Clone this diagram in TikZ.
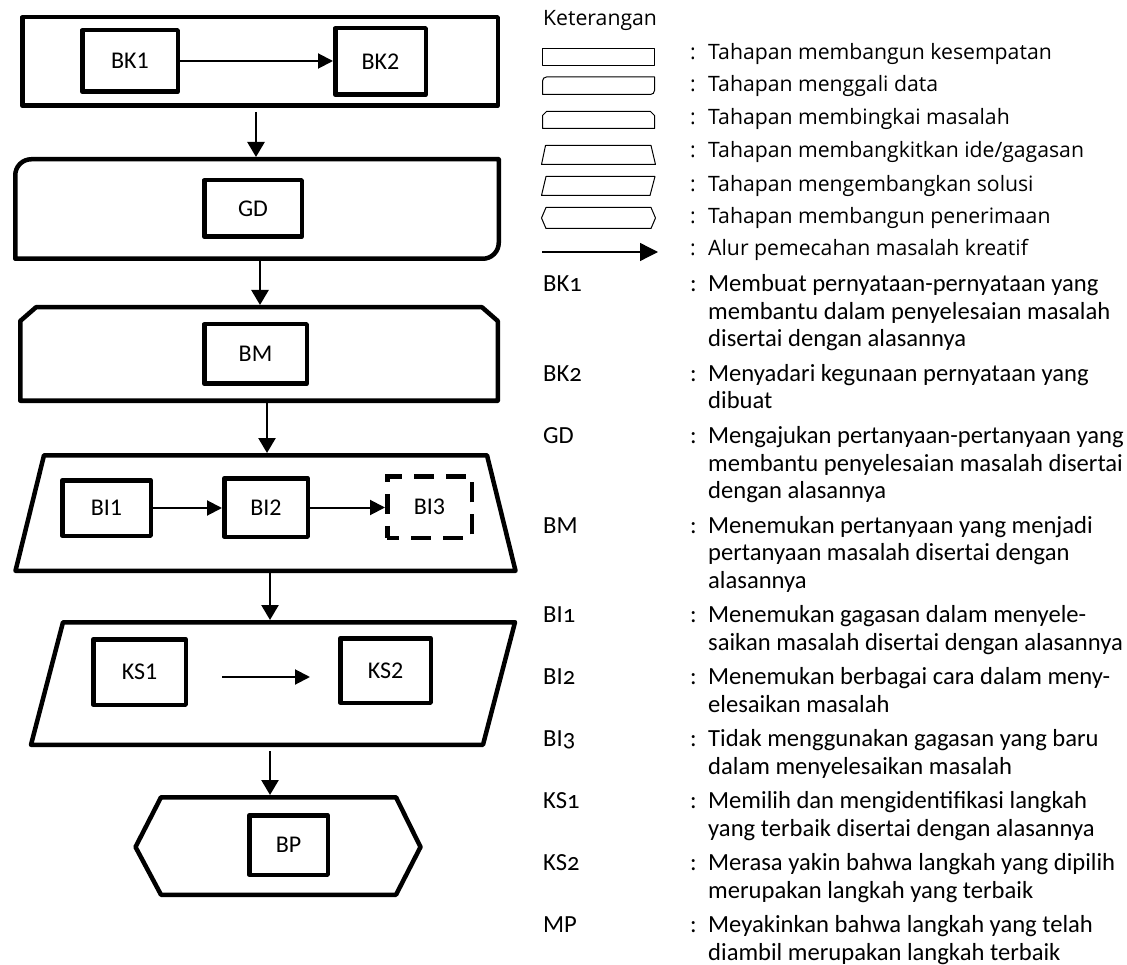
\documentclass[tikz,border=0pt]{standalone}
\usepackage{fontspec}
\setmainfont{Carlito}
\newfontfamily\legfont{Open Sans}
\newfontfamily\deffont[Numbers=OldStyle]{Carlito}
\usetikzlibrary{arrows.meta}
\tikzset{
  stage/.style={draw, line width=4.5pt, line join=round},
  ibox/.style={draw, line width=4.5pt, line join=round, inner sep=0pt,
    font=\fontsize{24}{28}\selectfont},
  flowv/.style={line width=2.5pt, -{Triangle[length=15pt,width=17pt]}},
  flowh/.style={line width=2pt, -{Triangle[length=15pt,width=15pt]}},
  legshape/.style={draw, line width=1pt, line join=round},
  legtext/.style={anchor=base west, inner sep=0pt, font=\legfont\fontsize{21.2}{25}\selectfont},
  deftext/.style={anchor=base west, inner sep=0pt, font=\deffont\fontsize{24.6}{28}\selectfont},
}
\newcommand\dline[3]{\node[deftext] (#1) at (708,#2) {#3};}
\newcommand\dlabel[3]{\node[deftext] (#1) at (543,#2) {#3};\node[deftext] (#1c) at (690,#2) {:};}
\begin{document}
\begin{tikzpicture}[x=1pt,y=-1pt]
\useasboundingbox (0,0) rectangle (1127,965);
% ---------- stage shapes ----------
% BK
\draw[stage] (22.25,17.25) rectangle (497.75,105.75);
% GD
\draw[stage] (15.25,258.75) -- (15.25,175.25) arc[start angle=180,end angle=270,radius=16]
  -- (498.75,159.25) -- (498.75,242.75) arc[start angle=0,end angle=90,radius=16] -- cycle;
% BM
\draw[stage] (20.25,400.75) -- (20.25,321) -- (36,307.25) -- (482,307.25) -- (497.75,321)
  -- (497.75,400.75) -- cycle;
% BI
\draw[stage] (44,455.25) -- (487,455.25) -- (515.5,570.75) -- (15.5,570.75) -- cycle;
% KS
\draw[stage] (63,622.25) -- (515,622.25) -- (483,744.75) -- (31,744.75) -- cycle;
% BP
\draw[stage] (161,797.25) -- (396,797.25) -- (420.5,847) -- (396,894.75) -- (161,894.75)
  -- (135.5,847) -- cycle;
% ---------- inner boxes ----------
\node[ibox, minimum width=95.5, minimum height=61.5] (bk1) at (130,61) {BK1};
\node[ibox, minimum width=90.5, minimum height=66.5] (bk2) at (380.5,61.5) {BK2};
\node[ibox, minimum width=97.5, minimum height=56.5] (gd) at (253,208.5) {GD};
\node[ibox, minimum width=102.5, minimum height=59.5] (bm) at (255.5,354) {BM};
\node[ibox, minimum width=88.5, minimum height=55.5] (bi1) at (106.5,508) {BI1};
\node[ibox, minimum width=83.5, minimum height=58.5] (bi2) at (266,507.5) {BI2};
\node[ibox, dash pattern=on 20pt off 12pt, dash phase=8pt, line join=miter,
  minimum width=84.5, minimum height=61.5] (bi3) at (429.5,507) {BI3};
\node[ibox, minimum width=92.5, minimum height=65.5] (ks1) at (139.5,672) {KS1};
\node[ibox, minimum width=90.5, minimum height=64.5] (ks2) at (385.5,670.5) {KS2};
\node[ibox, minimum width=78.5, minimum height=59.5] (bp) at (288.5,845) {BP};
% ---------- connectors ----------
\draw[flowh] (bk1.east) -- (bk1.east -| bk2.west);
\draw[flowh] (bi1.east) -- (bi1.east -| bi2.west);
\draw[flowh] (bi2.east) -- (bi2.east -| bi3.west);
\coordinate (ksa) at (222,677);
\coordinate (ksb) at (310,677);
\draw[flowh] (ksa) -- (ksb);
\coordinate (v1a) at (256,112);   \coordinate (v1b) at (256,157);
\coordinate (v2a) at (260,261);   \coordinate (v2b) at (260,305);
\coordinate (v3a) at (267,403);   \coordinate (v3b) at (267,453);
\coordinate (v4a) at (270,573);   \coordinate (v4b) at (270,620);
\coordinate (v5a) at (270,751);   \coordinate (v5b) at (270,795);
\draw[flowv] (v1a) -- (v1b);
\draw[flowv] (v2a) -- (v2b);
\draw[flowv] (v3a) -- (v3b);
\draw[flowv] (v4a) -- (v4b);
\draw[flowv] (v5a) -- (v5b);
% ---------- legend ----------
\node[legtext] (ket) at (543,26) {Keterangan};
% row shapes
\draw[legshape] (542.5,48.5) rectangle (654.5,65.5);
\draw[legshape] (542.5,94.5) -- (542.5,81) arc[start angle=180,end angle=270,radius=4]
  -- (654.5,77) -- (654.5,90.5) arc[start angle=0,end angle=90,radius=4] -- cycle;
\draw[legshape] (542.5,128.5) -- (542.5,115.5) -- (546.5,111.5) -- (650.5,111.5) -- (654.5,115.5)
  -- (654.5,128.5) -- cycle;
\draw[legshape] (545.5,145.5) -- (651,145.5) -- (655.5,164.5) -- (541.5,164.5) -- cycle;
\draw[legshape] (546,176.5) -- (655,176.5) -- (650,195.5) -- (541.5,195.5) -- cycle;
\draw[legshape] (546,207.5) -- (651,207.5) -- (655.5,218) -- (651,228.5) -- (546,228.5)
  -- (541.5,218) -- cycle;
\coordinate (lga) at (542,252);
\coordinate (lgb) at (658,252);
\draw[line width=1.3pt, -{Triangle[length=18pt,width=18pt]}] (lga) -- (lgb);
% row texts
\node[legtext] (c1) at (690,60) {:};   \node[legtext] (t1) at (708,60) {Tahapan membangun kesempatan};
\node[legtext] (c2) at (690,92) {:};   \node[legtext] (t2) at (708,92) {Tahapan menggali data};
\node[legtext] (c3) at (690,125) {:};  \node[legtext] (t3) at (708,125) {Tahapan membingkai masalah};
\node[legtext] (c4) at (690,158) {:};  \node[legtext] (t4) at (708,158) {Tahapan membangkitkan ide/gagasan};
\node[legtext] (c5) at (690,192) {:};  \node[legtext] (t5) at (708,192) {Tahapan mengembangkan solusi};
\node[legtext] (c6) at (690,224) {:};  \node[legtext] (t6) at (708,224) {Tahapan membangun penerimaan};
\node[legtext] (c7) at (690,256) {:};  \node[legtext] (t7) at (708,256) {Alur pemecahan masalah kreatif};
% ---------- definitions ----------
\dlabel{lbka}{292}{BK1}
\dline{dbka1}{292}{Membuat pernyataan-pernyataan yang}
\dline{dbka2}{319.5}{membantu dalam penyelesaian masalah}
\dline{dbka3}{347}{disertai dengan alasannya}
\dlabel{lbkb}{381.5}{BK2}
\dline{dbkb1}{381.5}{Menyadari kegunaan pernyataan yang}
\dline{dbkb2}{409}{dibuat}
\dlabel{lgd}{443.5}{GD}
\dline{dgd1}{443.5}{Mengajukan pertanyaan-pertanyaan yang}
\dline{dgd2}{471}{membantu penyelesaian masalah disertai}
\dline{dgd3}{498.5}{dengan alasannya}
\dlabel{lbm}{533}{BM}
\dline{dbm1}{533}{Menemukan pertanyaan yang menjadi}
\dline{dbm2}{560.5}{pertanyaan masalah disertai dengan}
\dline{dbm3}{588}{alasannya}
\dlabel{lbia}{622.5}{BI1}
\dline{dbia1}{622.5}{Menemukan gagasan dalam menyele-}
\dline{dbia2}{650}{saikan masalah disertai dengan alasannya}
\dlabel{lbib}{684.5}{BI2}
\dline{dbib1}{684.5}{Menemukan berbagai cara dalam meny-}
\dline{dbib2}{712}{elesaikan masalah}
\dlabel{lbic}{746.5}{BI3}
\dline{dbic1}{746.5}{Tidak menggunakan gagasan yang baru}
\dline{dbic2}{774}{dalam menyelesaikan masalah}
\dlabel{lksa}{808.5}{KS1}
\dline{dksa1}{808.5}{Memilih dan mengidentifikasi langkah}
\dline{dksa2}{836}{yang terbaik disertai dengan alasannya}
\dlabel{lksb}{870.5}{KS2}
\dline{dksb1}{870.5}{Merasa yakin bahwa langkah yang dipilih}
\dline{dksb2}{898}{merupakan langkah yang terbaik}
\dlabel{lmp}{932.5}{MP}
\dline{dmp1}{932.5}{Meyakinkan bahwa langkah yang telah}
\dline{dmp2}{960}{diambil merupakan langkah terbaik}
\end{tikzpicture}
\end{document}
